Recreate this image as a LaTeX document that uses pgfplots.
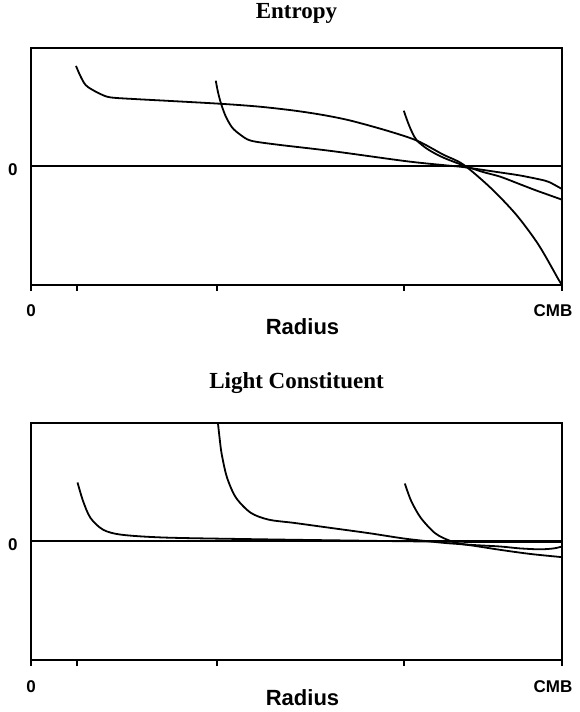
\documentclass[border=0pt]{standalone}
\usepackage{pgfplots}
\pgfplotsset{compat=1.18}
\usepackage{fontspec}
\setmainfont{Liberation Serif}
\setsansfont{Liberation Sans}

\pgfplotsset{
  crv/.style={black, line width=1.8pt, smooth, mark=none},
  zeroline/.style={black, line width=2pt, sharp plot, mark=none},
  panel/.style={
    scale only axis,
    width=531pt, height=237pt,
    xmin=0, xmax=1, ymin=-1, ymax=1,
    axis line style={line width=2.2pt},
    xtick={0,0.0866,0.35,0.702,1},
    xticklabels={0,,,,\hspace*{-18pt}CMB},
    xtick pos=bottom,
    xtick align=outside,
    major tick length=6pt,
    xtick style={line width=1.6pt, black},
    ytick={0},
    ytick pos=left,
    ytick style={draw=none},
    /pgf/number format/assume math mode=true,
    tick label style={font=\sffamily\bfseries\fontsize{17}{17}\selectfont},
    xticklabel style={anchor=base, yshift=-26pt},
    yticklabel style={anchor=base east, xshift=-10pt, yshift=-9pt},
    xlabel={Radius},
    xlabel style={font=\sffamily\bfseries\fontsize{22}{22}\selectfont,
      anchor=base, at={(0.5,0)}, xshift=6pt},
    title style={font=\bfseries\fontsize{23}{23}\selectfont,
      anchor=base, at={(0.5,1)}},
    clip=true,
  }
}

\begin{document}
\begin{tikzpicture}
\useasboundingbox (0,0) rectangle (579pt,712pt);

% top panel
\begin{axis}[panel, at={(31pt,427pt)}, anchor=south west,
    title={Entropy}, title style={yshift=23pt},
    xlabel style={yshift=-50pt}]
  \addplot[zeroline] coordinates {(0,0) (1,0)};
  \addplot[crv] coordinates {
    (0.0847,0.849) (0.092,0.773) (0.100,0.705) (0.108,0.668) (0.130,0.613)
    (0.150,0.583) (0.200,0.568) (0.254,0.555) (0.358,0.529) (0.430,0.505)
    (0.497,0.471) (0.552,0.433) (0.602,0.387) (0.670,0.303) (0.727,0.218)
    (0.776,0.101) (0.814,0.017) (0.866,-0.182) (0.914,-0.408)
    (0.956,-0.662) (0.994,-0.958) (1.0,-1.0)};
  \addplot[crv] coordinates {
    (0.348,0.724) (0.352,0.630) (0.358,0.529) (0.367,0.420) (0.379,0.328)
    (0.394,0.269) (0.414,0.218) (0.463,0.185) (0.567,0.130) (0.706,0.045)
    (0.776,0.012) (0.814,-0.005) (0.883,-0.050) (0.920,-0.075)
    (0.959,-0.110) (0.975,-0.130) (0.990,-0.165) (1.0,-0.190)};
  \addplot[crv] coordinates {
    (0.702,0.471) (0.710,0.370) (0.718,0.286) (0.727,0.218) (0.748,0.143)
    (0.776,0.076) (0.814,0.010) (0.850,-0.045) (0.883,-0.085)
    (0.921,-0.150) (0.950,-0.200) (0.975,-0.240) (1.0,-0.280)};
\end{axis}

% bottom panel
\begin{axis}[panel, at={(31pt,52pt)}, anchor=south west,
    title={Light Constituent}, title style={yshift=28pt},
    xlabel style={yshift=-45pt}]
  \addplot[zeroline] coordinates {(0,0) (1,0)};
  \addplot[crv] coordinates {
    (0.0876,0.498) (0.098,0.342) (0.112,0.199) (0.136,0.099) (0.171,0.057)
    (0.254,0.033) (0.427,0.019) (0.637,0.006) (0.706,0.002) (0.817,-0.003)
    (1.0,-0.005)};
  \addplot[crv] coordinates {
    (0.350,1.050) (0.352,1.0) (0.355,0.880) (0.359,0.741) (0.369,0.542)
    (0.386,0.370) (0.414,0.242) (0.448,0.184) (0.497,0.156) (0.567,0.113)
    (0.637,0.070) (0.706,0.023) (0.776,-0.011) (0.821,-0.028)
    (0.883,-0.070) (0.940,-0.105) (1.0,-0.132)};
  \addplot[crv] coordinates {
    (0.704,0.489) (0.716,0.342) (0.734,0.200) (0.761,0.070) (0.789,0.006)
    (0.817,-0.024) (0.883,-0.042) (0.920,-0.058) (0.959,-0.066)
    (0.985,-0.058) (1.0,-0.042)};
\end{axis}
\end{tikzpicture}
\end{document}
